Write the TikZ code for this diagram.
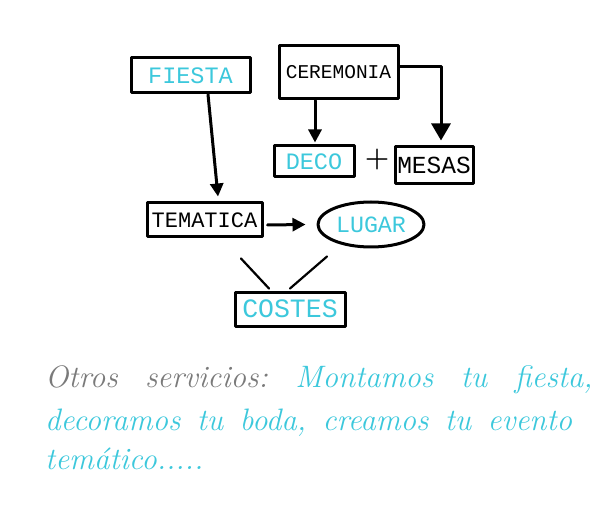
\documentclass[tikz,border=0pt]{standalone}
\usepackage{fontspec}
\setmonofont{Liberation Mono}
\usetikzlibrary{arrows.meta,shapes.geometric}
\definecolor{cyanT}{HTML}{3CC8DC}
\definecolor{greyT}{HTML}{7A7A7A}
\newcommand{\ttsz}[1]{\ttfamily\fontsize{#1}{#1}\selectfont}
\newcommand{\wordfont}{\itshape\fontsize{31}{31}\selectfont}
\def\gapA{27pt}
\def\gapB{16pt}
\tikzset{
  sk/.style={line width=3pt, line cap=round, line join=round},
  box/.style={sk, draw, rectangle, inner sep=0pt, font=\ttsz{23.5}},
  oval/.style={sk, draw, ellipse, inner sep=0pt, font=\ttsz{23.5}},
  arr/.style={sk, -{Triangle[length=13pt,width=13pt]}},
  bigarr/.style={sk, -{Triangle[length=17pt,width=19pt]}},
  conn/.style={line width=2.2pt, line cap=round},
  script/.style={anchor=base west, inner sep=0pt, text=cyanT, font=\wordfont}
}
\begin{document}
\begin{tikzpicture}[x=1pt,y=-1pt]
\useasboundingbox (0,0) rectangle (599,521);
\fill[white] (0,0) rectangle (599,521);
% nodes
\node[box, minimum width=119pt, minimum height=35pt, text=cyanT] (fiesta) at (190.5,75.5) {FIESTA};
\node[box, minimum width=119pt, minimum height=53pt, font=\ttsz{19.5}] (cer) at (338.5,72.5) {CEREMONIA};
\node[box, minimum width=80pt, minimum height=31pt, text=cyanT] (deco) at (314,161.5) {DECO};
\node[box, minimum width=78pt, minimum height=37pt, font=\ttsz{24.5}] (mesas) at (434,165.5) {MESAS};
\node[font=\fontsize{28}{28}\selectfont\bfseries] (plus) at (377,160) {+};
\node[box, minimum width=115pt, minimum height=34pt, font=\ttsz{22}] (tem) at (204.5,220) {TEMATICA};
\node[oval, minimum width=106pt, minimum height=45pt, text=cyanT, font=\ttsz{23.3}] (lugar) at (371,224.5) {LUGAR};
\node[box, minimum width=110pt, minimum height=34pt, text=cyanT, font=\ttsz{26.5}] (costes) at (290,309) {COSTES};
% connectors
\draw[arr] ([xshift=17.5pt]fiesta.south) -- ([xshift=13.5pt,yshift=5pt]tem.north);
\draw[arr] ([xshift=-23.5pt]cer.south) -- ([xshift=1pt,yshift=2pt]deco.north);
\draw[bigarr] ([yshift=5.5pt]cer.east) -| ([xshift=7pt,yshift=5pt]mesas.north);
\draw[arr] ([shift={(4pt,-5pt)}]tem.east) -- ([xshift=-11pt]lugar.west);
\draw[conn] ([shift={(36.5pt,-20pt)}]tem.south) -- ([shift={(-21pt,2pt)}]costes.north);
\draw[conn] ([shift={(-44pt,-8pt)}]lugar.south) -- ([shift={(0pt,2pt)}]costes.north);
% text, line 1
\node[script, text=greyT] (w1) at (45,387) {Otros};
\node[script, text=greyT] (w2) at ([xshift=\gapA]w1.base east) {servicios:};
\node[script] (w3) at ([xshift=\gapA]w2.base east) {Montamos};
\node[script] (w4) at ([xshift=\gapA]w3.base east) {tu};
\node[script] (w5) at ([xshift=\gapA]w4.base east) {fiesta,};
% line 2
\node[script] (w6) at (45,430) {decoramos};
\node[script] (w7) at ([xshift=\gapB]w6.base east) {tu};
\node[script] (w8) at ([xshift=\gapB]w7.base east) {boda,};
\node[script] (w9) at ([xshift=\gapB]w8.base east) {creamos};
\node[script] (w10) at ([xshift=\gapB]w9.base east) {tu};
\node[script] (w11) at ([xshift=\gapB]w10.base east) {evento};
% line 3
\node[script] (w12) at (45,469) {temático.....};
\end{tikzpicture}
\end{document}
